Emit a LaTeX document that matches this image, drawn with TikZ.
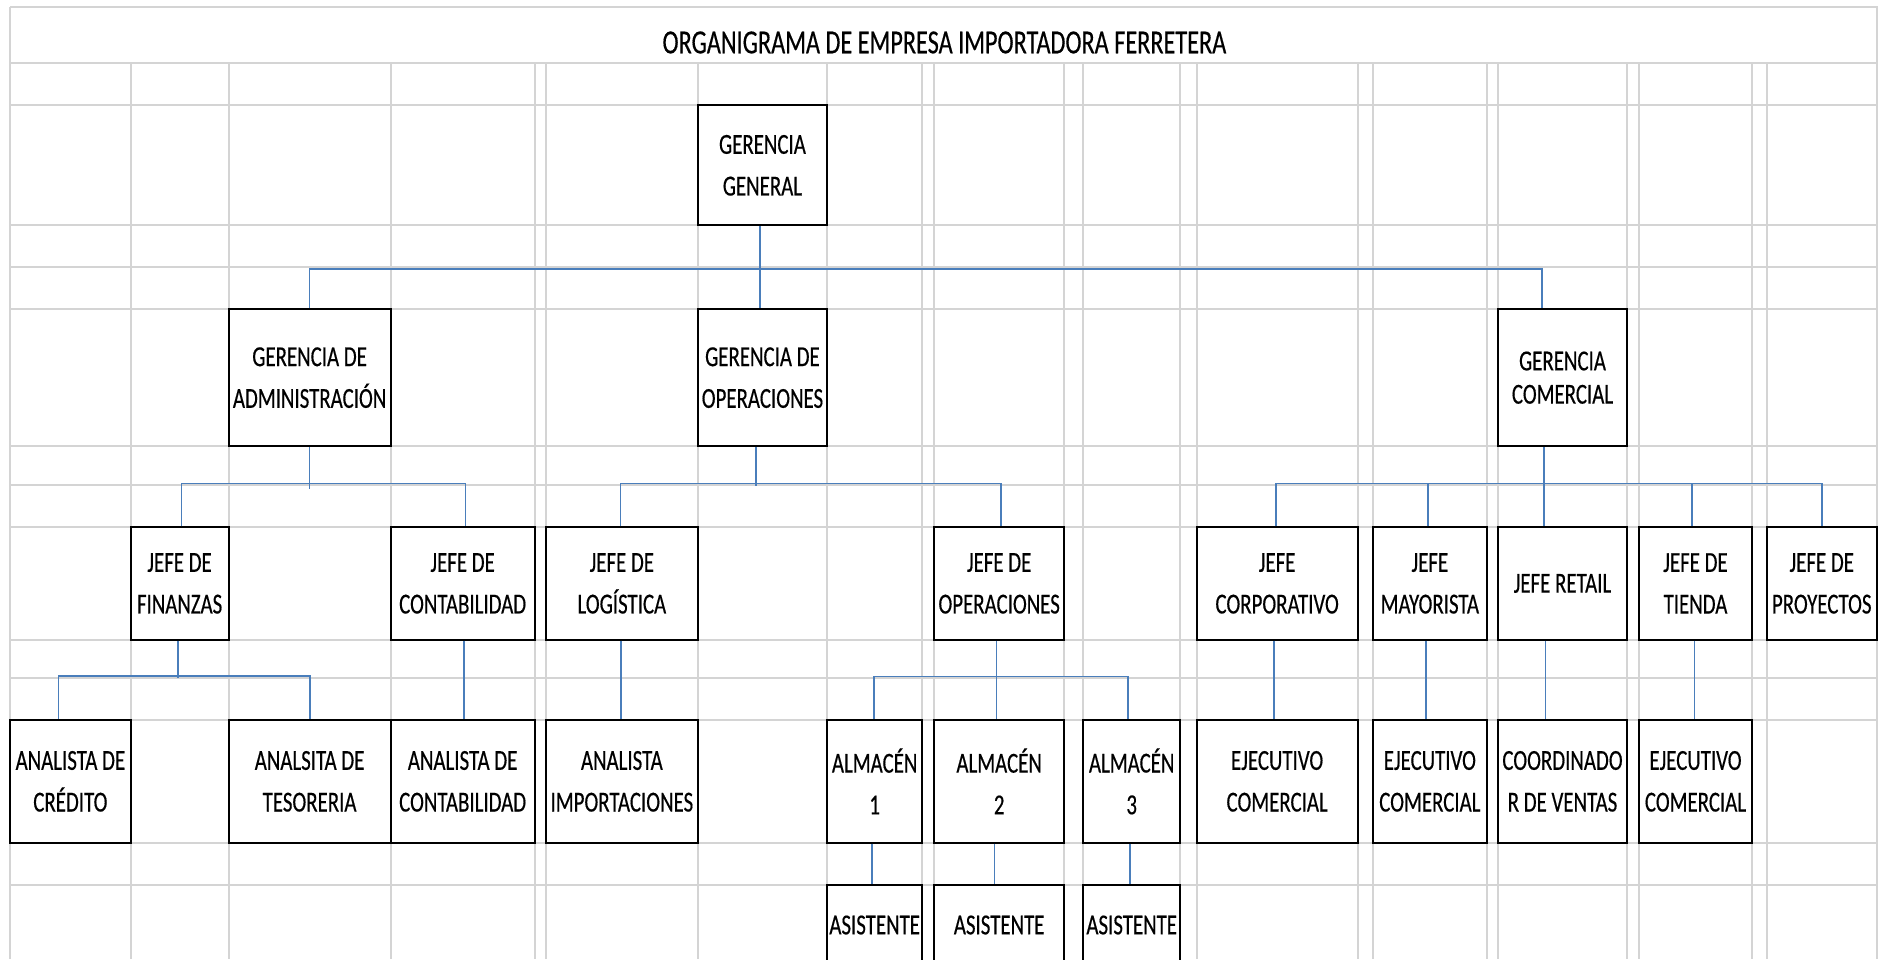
\documentclass[tikz,border=0pt]{standalone}
\usepackage{fontspec}
\newfontfamily\celda{Carlito}[FakeStretch=0.72,FakeBold=0.4]
\usepackage{tikz}
\definecolor{rejilla}{RGB}{212,212,212}
\definecolor{azul}{RGB}{74,126,187}

\begin{document}
\begin{tikzpicture}[x=1pt,y=-1pt]
  \tikzstyle{cargo}=[draw=black,fill=white,line width=2pt,align=center,inner sep=0pt,font=\celda\fontsize{29}{41.7}\selectfont]
  \tikzstyle{f1}=[cargo,minimum height=120pt]
  \tikzstyle{f2}=[cargo,minimum height=136.7pt]
  \tikzstyle{f3}=[cargo,minimum height=112.2pt]
  \tikzstyle{f4}=[cargo,minimum height=122.7pt]
  \tikzstyle{f5}=[cargo,minimum height=80pt]
  \tikzstyle{enlace}=[draw=azul,line width=1.5pt]
  \tikzstyle{linea}=[draw=rejilla,line width=2pt]
  \useasboundingbox (0,0) rectangle (1878,959);
  \clip (0,0) rectangle (1878,959);
  % rejilla de la hoja
  \draw[linea] (10,7.3) -- (1878,7.3);
  \foreach \y in {62.7,105.3,225.3,267.3,309.3,446,485.3,527.3,639.5,677.7,720,842.7,885}
    \draw[linea] (10,\y) -- (1878,\y);
  \foreach \x in {130.6,228.6,390.6,534.7,546.1,697.6,827.3,922,934.3,1064,1083,1180.4,1196.7,1357.6,1372.7,1487,1498,1627,1639,1752,1766.5}
    \draw[linea] (\x,62.7) -- (\x,959);
  \draw[linea] (10,7.3) -- (10,959);
  \draw[linea] (1876.5,7.3) -- (1876.5,959);
  \node[anchor=base,inner sep=0pt,font=\celda\fontsize{33.7}{40}\selectfont] (titulo) at (944.4,53.3) {ORGANIGRAMA DE EMPRESA IMPORTADORA FERRETERA};

	% nivel 1 y 2
	\node[f1, minimum width=129.7pt] (gg) at (762.45,165.3) {GERENCIA\\GENERAL};
	\node[f2, minimum width=162pt] (gadm) at (309.6,377.65) {GERENCIA DE\\ADMINISTRACIÓN};
	\node[f2, minimum width=129.7pt] (gop) at (762.45,377.65) {GERENCIA DE\\OPERACIONES};
	\node[f2, minimum width=129pt, font=\celda\fontsize{29}{33.3}\selectfont] (gcom) at (1562.5,377.65) {GERENCIA\\COMERCIAL};
	% jefes
	\node[f3, minimum width=98pt] (jfin) at (179.6,583.4) {JEFE DE\\FINANZAS};
	\node[f3, minimum width=144.1pt] (jcont) at (462.65,583.4) {JEFE DE\\CONTABILIDAD};
	\node[f3, minimum width=151.5pt] (jlog) at (621.85,583.4) {JEFE DE\\LOGÍSTICA};
	\node[f3, minimum width=129.7pt] (jop) at (999.15,583.4) {JEFE DE\\OPERACIONES};
	\node[f3, minimum width=160.9pt] (jcorp) at (1277.15,583.4) {JEFE\\CORPORATIVO};
	\node[f3, minimum width=114.3pt] (jmay) at (1429.85,583.4) {JEFE\\MAYORISTA};
	\node[f3, minimum width=129pt] (jret) at (1562.5,583.4) {JEFE RETAIL};
	\node[f3, minimum width=113pt] (jtien) at (1695.5,583.4) {JEFE DE\\TIENDA};
	\node[f3, minimum width=110.5pt] (jproy) at (1821.75,583.4) {JEFE DE\\PROYECTOS};
	% analistas, almacenes y ejecutivos
	\node[f4, minimum width=120.4pt] (acred) at (70.4,781.35) {ANALISTA DE\\CRÉDITO};
	\node[f4, minimum width=162pt] (ates) at (309.6,781.35) {ANALSITA DE\\TESORERIA};
	\node[f4, minimum width=144.1pt] (acont) at (462.65,781.35) {ANALISTA DE\\CONTABILIDAD};
	\node[f4, minimum width=151.5pt] (aimp) at (621.85,781.35) {ANALISTA\\IMPORTACIONES};
	\node[f4, minimum width=94.7pt] (alm1) at (874.65,781.35) {ALMACÉN\\1};
	\node[f4, minimum width=129.7pt] (alm2) at (999.15,781.35) {ALMACÉN\\2};
	\node[f4, minimum width=97.4pt] (alm3) at (1131.7,781.35) {ALMACÉN\\3};
	\node[f4, minimum width=160.9pt] (ejec1) at (1277.15,781.35) {EJECUTIVO\\COMERCIAL};
	\node[f4, minimum width=114.3pt] (ejec2) at (1429.85,781.35) {EJECUTIVO\\COMERCIAL};
	\node[f4, minimum width=129pt] (coord) at (1562.5,781.35) {COORDINADO\\R DE VENTAS};
	\node[f4, minimum width=113pt] (ejec3) at (1695.5,781.35) {EJECUTIVO\\COMERCIAL};
	% asistentes
	\node[f5, minimum width=94.7pt] (asis1) at (874.65,925) {ASISTENTE};
	\node[f5, minimum width=129.7pt] (asis2) at (999.15,925) {ASISTENTE};
	\node[f5, minimum width=97.4pt] (asis3) at (1131.7,925) {ASISTENTE};

	% lineas
	\draw[enlace] ([xshift=-2.5pt]gg.south) -- ([xshift=-2.5pt]gop.north);
	\draw[enlace] (gadm.north) -- ++(0,-39.3) -| ([xshift=-20.5pt]gcom.north);
	\draw[enlace] (gadm.south) -- ++(0,42);
	\draw[enlace] ([xshift=2pt]jfin.north) -- ++(0,-42.6) -| ([xshift=3pt]jcont.north);
	\draw[enlace] ([xshift=-6.5pt]gop.south) -- ++(0,38.5);
	\draw[enlace] ([xshift=-1.5pt]jlog.north) -- ++(0,-43) -| ([xshift=1.6pt]jop.north);
	\draw[enlace] ([xshift=-18.5pt]gcom.south) -- ([xshift=-18.5pt]jret.north);
	\draw[enlace] ([xshift=-1pt]jcorp.north) -- ++(0,-43) -| (jproy.north);
	\draw[enlace] ([xshift=-2pt]jmay.north) -- ++(0,-43);
	\draw[enlace] ([xshift=-3.5pt]jtien.north) -- ++(0,-43);
	\draw[enlace] ([xshift=-1.6pt]jfin.south) -- ++(0,37.5);
	\draw[enlace] ([xshift=-12pt]acred.north) -- ++(0,-43) -| ([xshift=0.6pt]ates.north);
	\draw[enlace] ([xshift=1.4pt]jcont.south) -- ([xshift=1.4pt]acont.north);
	\draw[enlace] ([xshift=-0.8pt]jlog.south) -- ([xshift=-0.8pt]aimp.north);
	\draw[enlace] ([xshift=-2.9pt]jop.south) -- ([xshift=-2.9pt]alm2.north);
	\draw[enlace] ([xshift=-0.7pt]alm1.north) -- ++(0,-42.3) -| ([xshift=-3.7pt]alm3.north);
	\draw[enlace] ([xshift=-2.9pt]alm1.south) -- ([xshift=-2.9pt]asis1.north);
	\draw[enlace] ([xshift=-4.5pt]alm2.south) -- ([xshift=-4.5pt]asis2.north);
	\draw[enlace] ([xshift=-1.9pt]alm3.south) -- ([xshift=-1.9pt]asis3.north);
	\draw[enlace] ([xshift=-3.2pt]jcorp.south) -- ([xshift=-3.2pt]ejec1.north);
	\draw[enlace] ([xshift=-3.9pt]jmay.south) -- ([xshift=-3.9pt]ejec2.north);
	\draw[enlace] ([xshift=-16.8pt]jret.south) -- ([xshift=-16.8pt]coord.north);
	\draw[enlace] ([xshift=-0.8pt]jtien.south) -- ([xshift=-0.8pt]ejec3.north);
\end{tikzpicture}
\end{document}
